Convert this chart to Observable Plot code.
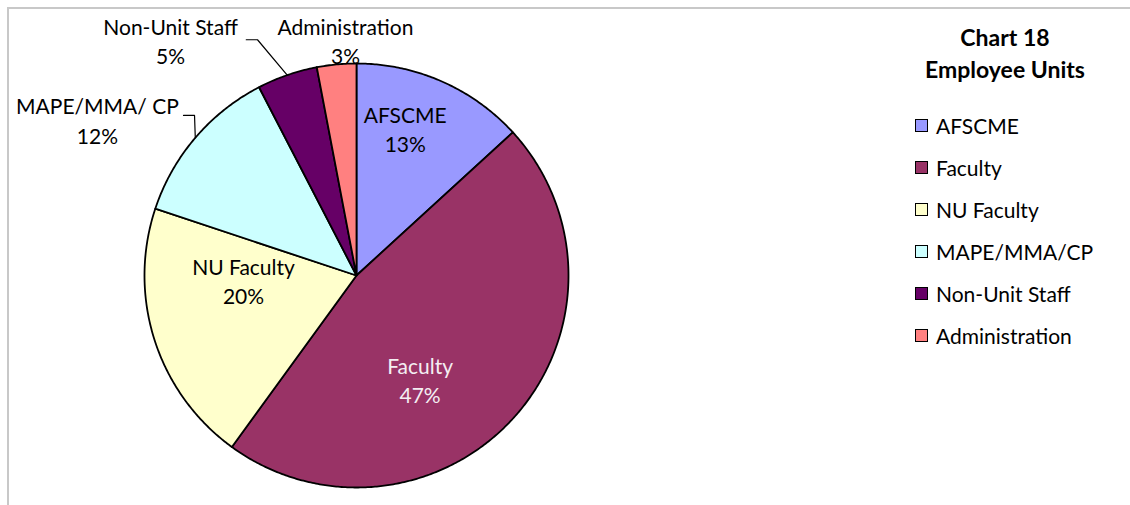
<!DOCTYPE html>
<html>
<head>
<meta charset="utf-8">
<script src="https://cdn.jsdelivr.net/npm/d3@7"></script>
<script src="https://cdn.jsdelivr.net/npm/@observablehq/plot@0.6"></script>
<style>
  body { margin: 0; background: #fff; }
  #wrap { position: relative; width: 1130px; height: 505px; overflow: hidden; font-family: Lato, "Open Sans", sans-serif; }
  #frame { position: absolute; left: 7px; top: 7px; width: 1300px; height: 700px; border: 2px solid #c8c8c8; box-sizing: border-box; }
  #chart { position: absolute; left: 0; top: 0; }
  #title { position: absolute; left: 905px; width: 200px; top: 21px; text-align: center; font-weight: bold; font-size: 23px; line-height: 32px; color: #000; }
  #legend { position: absolute; left: 915px; top: 104px; }
  .item { display: flex; align-items: center; height: 42px; font-size: 21px; color: #000; }
  .sw { width: 13px; height: 13px; border: 1.5px solid #000; margin-right: 8px; box-sizing: border-box; }
</style>
</head>
<body>
<div id="wrap">
  <div id="frame"></div>
  <div id="chart"></div>
  <div id="title">Chart 18<br>Employee Units</div>
  <div id="legend"></div>
</div>
<script>
// ---- data ----
const categories = ["AFSCME", "Faculty", "NU Faculty", "MAPE/MMA/CP", "Non-Unit Staff", "Administration"];
const sliceLabels = ["AFSCME", "Faculty", "NU Faculty", "MAPE/MMA/ CP", "Non-Unit Staff", "Administration"];
const values = [13.2, 46.8, 20.1, 12.3, 4.6, 3.0];
const colors = ["#9999FF", "#993366", "#FFFFCC", "#CCFFFF", "#660066", "#FF8080"];

// ---- layout (unit-circle coordinates, pie radius = 1) ----
const labelPos = [
  [0.23, 0.695], [0.30, -0.49], [-0.533, -0.023],
  [-1.222, 0.736], [-0.877, 1.109], [-0.052, 1.11]
];
const labelFill = ["#000", "#f4eef2", "#000", "#000", "#000", "#000"];
// leader elbows for outside labels (index -> [start, elbow])
const leaders = {
  3: [[-0.816, 0.755], [-0.764, 0.755]],
  4: [[-0.52, 1.112], [-0.467, 1.112]]
};

const total = d3.sum(values);
let acc = 0;
const slices = values.map((v, i) => {
  const a0 = acc / total * 2 * Math.PI;
  acc += v;
  const a1 = acc / total * 2 * Math.PI;
  return {name: categories[i], a0, a1, mid: (a0 + a1) / 2, v};
});

const polyRows = [];
slices.forEach(s => {
  polyRows.push({slice: s.name, x: 0, y: 0});
  const n = Math.max(2, Math.ceil((s.a1 - s.a0) / (Math.PI / 360)));
  for (let k = 0; k <= n; k++) {
    const a = s.a0 + (s.a1 - s.a0) * k / n;
    polyRows.push({slice: s.name, x: Math.sin(a), y: Math.cos(a)});
  }
  polyRows.push({slice: s.name, x: 0, y: 0});
});

const textRows = slices.map((s, i) => ({
  x: labelPos[i][0], y: labelPos[i][1],
  text: sliceLabels[i] + "\n" + Math.round(s.v / total * 100) + "%",
  fill: labelFill[i]
}));

const leaderRows = [];
Object.entries(leaders).forEach(([i, pts]) => {
  const s = slices[+i];
  pts.forEach(p => leaderRows.push({id: i, x: p[0], y: p[1]}));
  leaderRows.push({id: i, x: Math.sin(s.mid), y: Math.cos(s.mid)});
});

const chart = Plot.plot({
  width: 1130,
  height: 505,
  margin: 0,
  x: {domain: [-1, 1], range: [144, 568], axis: null},
  y: {domain: [-1, 1], range: [487, 63], axis: null},
  color: {domain: categories, range: colors},
  style: {background: "transparent", overflow: "visible"},
  marks: [
    Plot.line(polyRows, {x: "x", y: "y", z: "slice", fill: "slice", stroke: "#000", strokeWidth: 1.8, strokeLinejoin: "round", curve: "linear"}),
    Plot.line(leaderRows, {x: "x", y: "y", z: "id", stroke: "#000", strokeWidth: 1.2}),
    Plot.text(textRows, {x: "x", y: "y", text: "text", fill: "fill", fontSize: 21, lineHeight: 1.4, fontFamily: "Lato, 'Open Sans', sans-serif"})
  ]
});
document.getElementById("chart").appendChild(chart);

const legend = document.getElementById("legend");
categories.forEach((c, i) => {
  const item = document.createElement("div");
  item.className = "item";
  const sw = document.createElement("div");
  sw.className = "sw";
  sw.style.background = colors[i];
  const t = document.createElement("span");
  t.textContent = c;
  item.appendChild(sw);
  item.appendChild(t);
  legend.appendChild(item);
});
</script>
</body>
</html>
